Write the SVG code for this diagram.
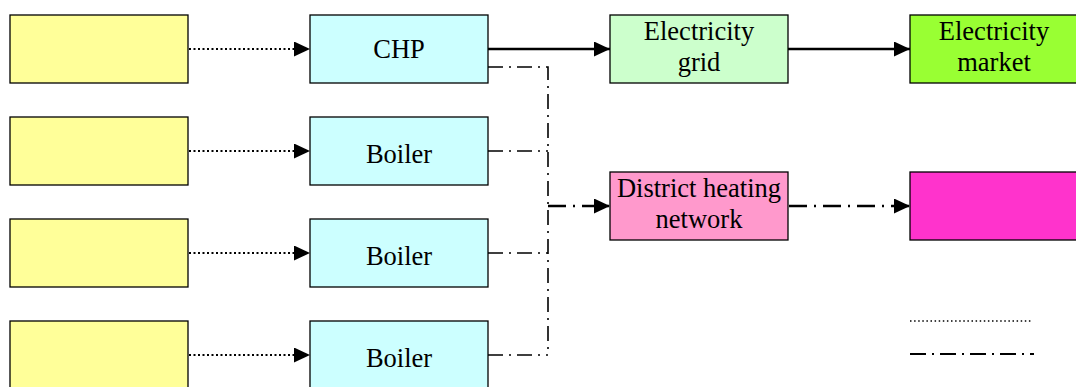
<svg xmlns="http://www.w3.org/2000/svg" width="1076" height="387" viewBox="0 0 1076 387">
<style>
.box{stroke:#000;stroke-width:1.3}
.t{font-family:"Liberation Serif","Times New Roman",serif;font-size:26.5px;fill:#000;text-anchor:middle}
.dot{fill:none;stroke:#000;stroke-width:2.2;stroke-dasharray:2 2.5}
.solid{fill:none;stroke:#000;stroke-width:2.4}
.dd{fill:none;stroke:#000;stroke-width:1.6;stroke-dasharray:15 6 2 6}
.ddb{fill:none;stroke:#000;stroke-width:2.4;stroke-dasharray:18 7 2 7}
</style>
<defs>
<marker id="ah" markerWidth="16" markerHeight="15" refX="16" refY="7.5" orient="auto" markerUnits="userSpaceOnUse">
<path d="M0,0 L16,7.5 L0,15 Z" fill="#000"/>
</marker>
</defs>
<rect width="1076" height="387" fill="#fff"/>
<g id="src1"><rect class="box" x="10" y="15" width="178" height="68" fill="#ffff99"/></g>
<g id="src2"><rect class="box" x="10" y="117" width="178" height="68" fill="#ffff99"/></g>
<g id="src3"><rect class="box" x="10" y="219" width="178" height="68" fill="#ffff99"/></g>
<g id="src4"><rect class="box" x="10" y="321" width="178" height="68" fill="#ffff99"/></g>
<g id="chp"><rect class="box" x="310" y="15" width="178" height="68" fill="#ccffff"/><text class="t" x="399" y="58">CHP</text></g>
<g id="boiler1"><rect class="box" x="310" y="117" width="178" height="68" fill="#ccffff"/><text class="t" x="399" y="163">Boiler</text></g>
<g id="boiler2"><rect class="box" x="310" y="219" width="178" height="68" fill="#ccffff"/><text class="t" x="399" y="265">Boiler</text></g>
<g id="boiler3"><rect class="box" x="310" y="321" width="178" height="68" fill="#ccffff"/><text class="t" x="399" y="367">Boiler</text></g>
<g id="grid"><rect class="box" x="610" y="15" width="178" height="68" fill="#ccffcc"/><text class="t" x="699" y="40">Electricity</text><text class="t" x="699" y="71">grid</text></g>
<g id="market"><rect class="box" x="910" y="15" width="178" height="68" fill="#99ff33"/><text class="t" x="994" y="40">Electricity</text><text class="t" x="994" y="71">market</text></g>
<g id="dh"><rect class="box" x="610" y="172" width="178" height="68" fill="#ff99cc"/><text class="t" x="699" y="197">District heating</text><text class="t" x="699" y="228">network</text></g>
<g id="heat"><rect class="box" x="910" y="172" width="178" height="68" fill="#ff33cc"/></g>
<g id="connectors">
<line class="dot" x1="189" y1="49" x2="310" y2="49" marker-end="url(#ah)"/>
<line class="dot" x1="189" y1="151" x2="310" y2="151" marker-end="url(#ah)"/>
<line class="dot" x1="189" y1="253" x2="310" y2="253" marker-end="url(#ah)"/>
<line class="dot" x1="189" y1="355" x2="310" y2="355" marker-end="url(#ah)"/>
<line class="solid" x1="488" y1="49" x2="610" y2="49" marker-end="url(#ah)"/>
<line class="solid" x1="788" y1="49" x2="910" y2="49" marker-end="url(#ah)"/>
<polyline class="dd" points="488,67 548,67 548,355"/>
<line class="dd" x1="488" y1="151" x2="548" y2="151"/>
<line class="dd" x1="488" y1="253" x2="548" y2="253"/>
<line class="dd" x1="488" y1="355" x2="548" y2="355"/>
<line class="ddb" x1="548" y1="206" x2="610" y2="206" marker-end="url(#ah)"/>
<line class="ddb" x1="789" y1="206" x2="910" y2="206" marker-end="url(#ah)"/>
</g>
<g id="legend">
<line x1="910" y1="321" x2="1032" y2="321" stroke="#000" stroke-width="1.5" stroke-dasharray="1.5 2.6"/>
<line x1="910" y1="354" x2="1034" y2="354" stroke="#000" stroke-width="2" stroke-dasharray="16 6 2 6"/>
</g>
</svg>
